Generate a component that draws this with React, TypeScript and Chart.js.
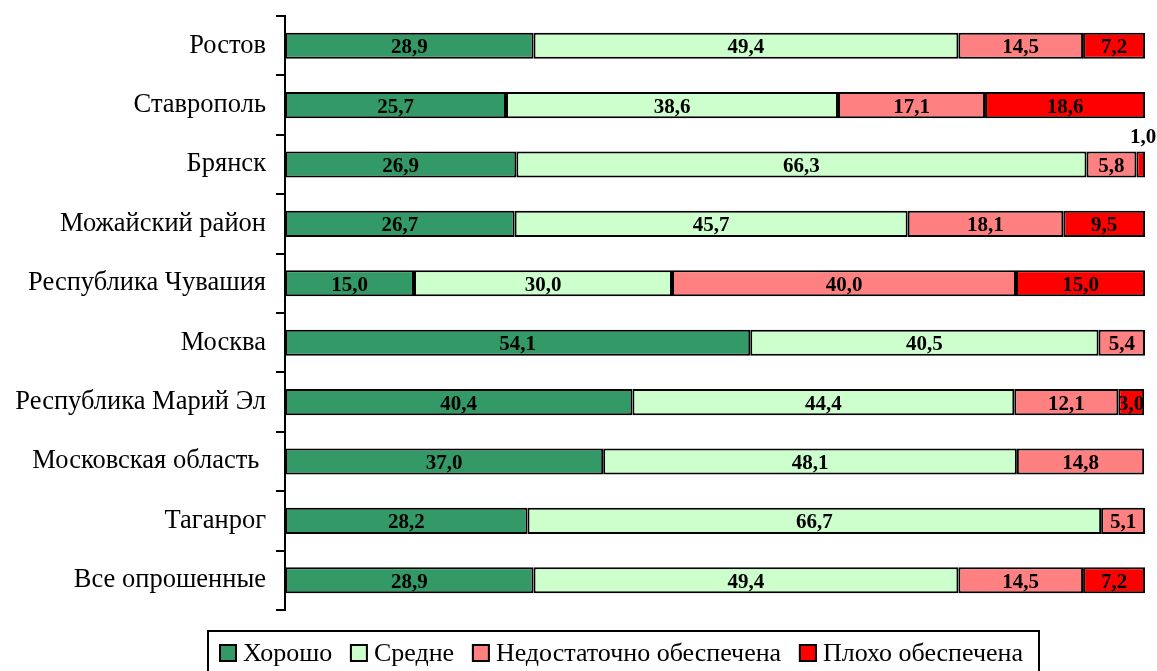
import React, { useEffect, useRef } from "react";
import { Chart, registerables } from "chart.js";

Chart.register(...registerables);

const categories = [
  "Ростов",
  "Ставрополь",
  "Брянск",
  "Можайский район",
  "Республика Чувашия",
  "Москва",
  "Республика Марий Эл",
  "Московская область ",
  "Таганрог",
  "Все опрошенные",
];

const seriesNames = ["Хорошо", "Средне", "Недостаточно обеспечена", "Плохо обеспечена"];
const seriesColors = ["#339966", "#CCFFCC", "#FF8080", "#FF0000"];

const good = [28.9, 25.7, 26.9, 26.7, 15.0, 54.1, 40.4, 37.0, 28.2, 28.9];
const medium = [49.4, 38.6, 66.3, 45.7, 30.0, 40.5, 44.4, 48.1, 66.7, 49.4];
const insufficient = [14.5, 17.1, 5.8, 18.1, 40.0, 5.4, 12.1, 14.8, 5.1, 14.5];
const poor: (number | null)[] = [7.2, 18.6, 1.0, 9.5, 15.0, null, 3.0, null, null, 7.2];

const SERIF = "'Liberation Serif', 'Times New Roman', serif";

const fmt = (v: number) => v.toFixed(1).replace(".", ",");

const labelsPlugin = {
  id: "barLabels",
  afterDatasetsDraw(chart: any) {
    const ctx = chart.ctx;
    ctx.save();
    ctx.font = `bold 21px ${SERIF}`;
    ctx.fillStyle = "#000";
    ctx.textBaseline = "middle";
    ctx.textAlign = "center";
    chart.data.datasets.forEach((ds: any, di: number) => {
      const meta = chart.getDatasetMeta(di);
      meta.data.forEach((el: any, i: number) => {
        const v = ds.data[i];
        if (v === null || v === undefined) return;
        const p = el.getProps(["x", "y", "base", "height"], true);
        if (v < 2) {
          ctx.fillText(fmt(v), p.x - 2, p.y - p.height / 2 - 14);
        } else {
          ctx.fillText(fmt(v), (p.x + p.base) / 2, p.y + 2);
        }
      });
    });
    ctx.restore();
  },
};

const legendPlugin = {
  id: "boxLegend",
  afterDraw(chart: any) {
    const ctx = chart.ctx;
    ctx.save();
    ctx.font = `26px ${SERIF}`;
    const box = 18;
    const gapBoxText = 6;
    const startX = 219;
    const endX = 1023;
    const widths = seriesNames.map((n) => ctx.measureText(n).width);
    const used = widths.reduce((a, w) => a + box + gapBoxText + w, 0);
    const itemGap = (endX - startX - used) / (seriesNames.length - 1);
    let x = startX;
    const cy = 653;
    ctx.strokeStyle = "#000";
    ctx.lineWidth = 2;
    ctx.strokeRect(208, 631, 1039 - 208, 50);
    ctx.textBaseline = "middle";
    ctx.textAlign = "left";
    seriesNames.forEach((n, i) => {
      ctx.fillStyle = seriesColors[i];
      ctx.fillRect(x, cy - box / 2, box, box);
      ctx.strokeStyle = "#000";
      ctx.lineWidth = 2;
      ctx.strokeRect(x + 1, cy - box / 2 + 1, box - 2, box - 2);
      ctx.fillStyle = "#000";
      ctx.fillText(n, x + box + gapBoxText, cy + 1);
      x += box + gapBoxText + widths[i] + itemGap;
    });
    ctx.restore();
  },
};

export default function App() {
  const ref = useRef<HTMLCanvasElement | null>(null);
  useEffect(() => {
    if (!ref.current) return;
    const data = [good, medium, insufficient, poor];
    const chart = new Chart(ref.current, {
      type: "bar",
      data: {
        labels: categories,
        datasets: seriesNames.map((name, i) => ({
          label: name,
          data: data[i] as any,
          backgroundColor: seriesColors[i],
          borderColor: "#000",
          borderWidth: 2,
          borderSkipped: false,
          barPercentage: 0.44,
          categoryPercentage: 1,
        })),
      },
      options: {
        indexAxis: "y",
        responsive: false,
        animation: false,
        layout: { padding: { top: 16, right: 12, bottom: 61, left: 0 } },
        plugins: {
          legend: { display: false },
          tooltip: { enabled: false },
        },
        scales: {
          x: { stacked: true, min: 0, max: 100, display: false },
          y: {
            stacked: true,
            offset: true,
            afterFit: (s: any) => {
              s.width = 285;
              s.paddingTop = 0;
              s.paddingBottom = 0;
            },
            grid: {
              drawOnChartArea: false,
              offset: true,
              tickLength: 9,
              color: "#000",
              lineWidth: 2,
            },
            border: { color: "#000", width: 2 },
            ticks: {
              color: "#000",
              padding: 10,
              font: { family: SERIF, size: 26.5 },
            },
          },
        },
      } as any,
      plugins: [labelsPlugin, legendPlugin],
    });
    return () => chart.destroy();
  }, []);
  return (
    <canvas
      ref={ref}
      width={1157}
      height={671}
      style={{ position: "fixed", left: 0, top: 0, display: "block", width: 1157, height: 671 }}
    />
  );
}
